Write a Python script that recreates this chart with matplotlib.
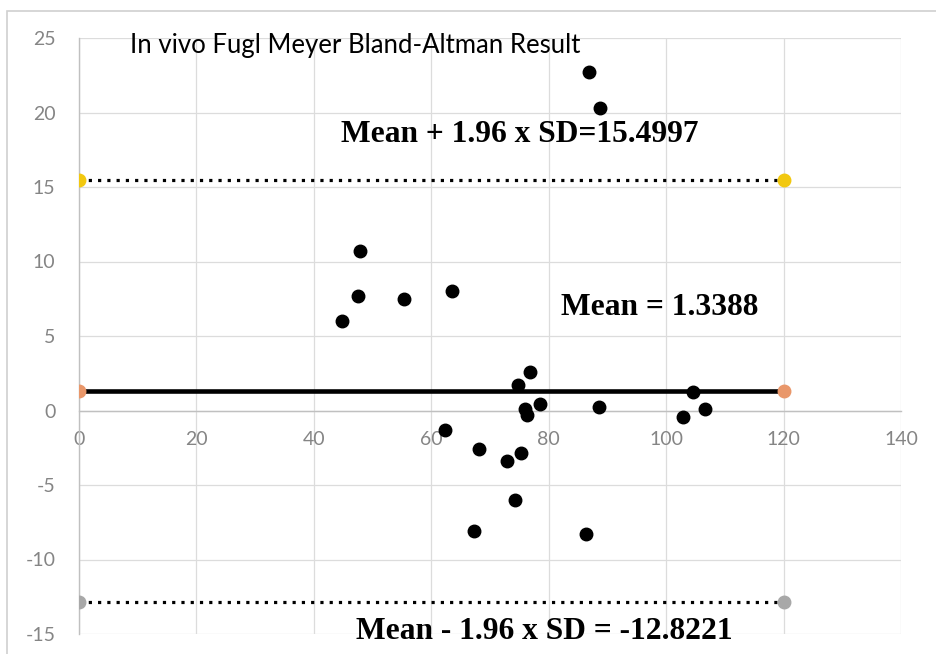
import numpy as np
import matplotlib
matplotlib.use("Agg")
import matplotlib.pyplot as plt
from matplotlib.patches import Rectangle

plt.rcParams["axes.unicode_minus"] = False

# ---------------------------------------------------------------------------
# Data
# ---------------------------------------------------------------------------
avg_scores = [86.8, 88.7, 47.8, 47.5, 55.3, 63.5, 44.8, 76.8, 74.8, 76.0,
              76.3, 78.6, 62.4, 68.1, 72.9, 75.2, 74.2, 67.3, 86.3, 88.5,
              104.5, 106.6, 102.9]
diff_scores = [22.75, 20.3, 10.7, 7.7, 7.45, 8.05, 6.0, 2.6, 1.68, 0.07,
               -0.27, 0.45, -1.32, -2.57, -3.4, -2.84, -6.04, -8.12, -8.26, 0.25,
               1.25, 0.13, -0.45]

line_x = [0, 120]
mean_diff = 1.3388
upper_loa = 15.4997
lower_loa = -12.8221

x_ticks = [0, 20, 40, 60, 80, 100, 120, 140]
y_ticks = [-15, -10, -5, 0, 5, 10, 15, 20, 25]

TITLE = "In vivo Fugl Meyer Bland-Altman Result"
UPPER_LABEL = "Mean + 1.96 x SD=15.4997"
MEAN_LABEL = "Mean = 1.3388"
LOWER_LABEL = "Mean - 1.96 x SD = -12.8221"

# ---------------------------------------------------------------------------
# Figure
# ---------------------------------------------------------------------------
fig = plt.figure(figsize=(9.36, 6.54), dpi=100)
ax = fig.add_axes([79 / 936, 1 - 634 / 654, 822 / 936, 596 / 654])

# chart-area border (Excel style)
fig.patches.append(Rectangle((7 / 936, -0.05), 1.2, 1 - 11 / 654 + 0.05,
                             transform=fig.transFigure, fill=False,
                             edgecolor="#D0D0D0", linewidth=1.2))

ax.set_xlim(0, 140)
ax.set_ylim(-15, 25)
ax.set_xticks(x_ticks)
ax.set_yticks(y_ticks)
ax.grid(True, color="#DCDCDC", linewidth=0.9)
ax.set_axisbelow(True)

for side in ["top", "right"]:
    ax.spines[side].set_visible(False)
ax.spines["bottom"].set_position(("data", 0))
ax.spines["left"].set_position(("data", 0))
for side in ["bottom", "left"]:
    ax.spines[side].set_color("#C0C0C0")
    ax.spines[side].set_linewidth(1.0)

ax.tick_params(axis="both", length=0)
ax.tick_params(axis="x", pad=15)
ax.tick_params(axis="y", pad=17)
for lbl in ax.get_xticklabels() + ax.get_yticklabels():
    lbl.set_fontfamily("Lato")
    lbl.set_fontsize(14)
    lbl.set_color("#858585")

# limits of agreement and mean
ax.plot(line_x, [upper_loa, upper_loa], color="black", linewidth=2.3,
        dashes=(1, 1.9), dash_capstyle="butt", zorder=3)
ax.plot(line_x, [upper_loa, upper_loa], linestyle="none", marker="o",
        markersize=9, color="#F2C80F", zorder=4)

ax.plot(line_x, [mean_diff, mean_diff], color="black", linewidth=3.3, zorder=3)
ax.plot(line_x, [mean_diff, mean_diff], linestyle="none", marker="o",
        markersize=9, color="#E9976A", zorder=4)

ax.plot(line_x, [lower_loa, lower_loa], color="black", linewidth=2.3,
        dashes=(1, 1.9), dash_capstyle="butt", zorder=3)
ax.plot(line_x, [lower_loa, lower_loa], linestyle="none", marker="o",
        markersize=9, color="#A8A8A8", zorder=4)

# scatter of differences
ax.plot(avg_scores, diff_scores, linestyle="none", marker="o", markersize=9,
        color="black", zorder=5)

# annotations
ax.text(8.7, 24.5, TITLE, family="Lato", fontsize=18.5, color="black",
        ha="left", va="center")
bold_serif = dict(family="Liberation Serif", fontweight="bold", fontsize=22.7,
                  color="black", ha="center", va="center", clip_on=False)
ax.text(75.1, 18.5, UPPER_LABEL, **bold_serif)
ax.text(98.9, 6.9, MEAN_LABEL, **bold_serif)
ax.text(79.3, -14.8, LOWER_LABEL, **bold_serif)

fig.savefig("out.png", dpi=100, facecolor="white")
